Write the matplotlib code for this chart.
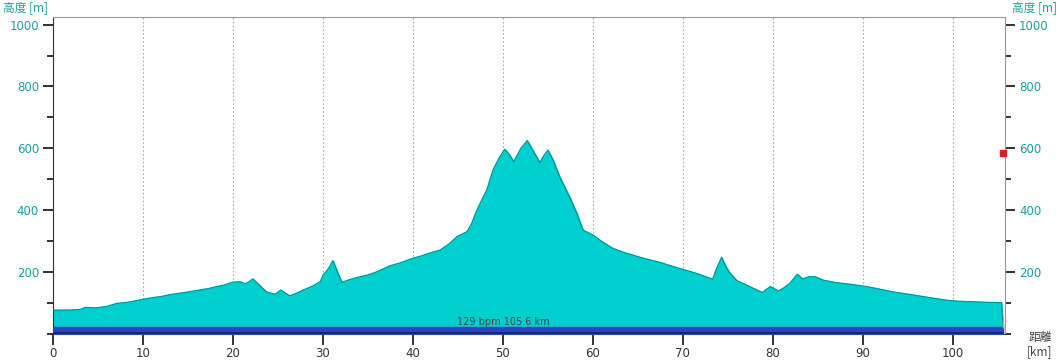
import numpy as np
import matplotlib
matplotlib.use("Agg")
import matplotlib.pyplot as plt
from matplotlib.ticker import MultipleLocator

# elevation profile
dist_km = [0, 1, 2, 3, 3.6, 4.5, 5, 6, 7.1, 8, 9, 10, 11, 12, 13, 14.4, 15.5, 16.5,
           17.3, 18.2, 19, 19.9, 20.8, 21.3, 21.8, 22.2, 23, 23.7, 24.7, 25.3, 26.3,
           27, 27.8, 28.8, 29.7, 30.0, 30.6, 31.1, 31.6, 32.1, 33, 34, 35, 36, 37.4,
           38.5, 40, 41, 42, 43, 44, 44.9, 46, 46.5, 47.1, 47.6, 48.2, 48.9, 49.5,
           50.2, 50.7, 51.2, 52, 52.7, 53.4, 54.1, 54.5, 55, 55.6, 56.3, 57.4, 58.2,
           58.9, 60, 61, 62.2, 63.5, 65.6, 67.5, 69.7, 71.5, 73.3, 73.8, 74.3, 74.8,
           75.2, 76, 77, 78.8, 79.7, 80.6, 81.2, 81.9, 82.7, 83.3, 84, 84.7, 85.6,
           87, 88.5, 90, 91.5, 93.3, 95.6, 97.5, 99.3, 100.4, 102, 104, 105.4, 105.6]
elev_m = [76, 76, 76, 78, 85, 83, 84, 88, 98, 100, 105, 111, 116, 120, 126, 132, 137, 142,
          146, 152, 157, 166, 168, 161, 168, 177, 155, 135, 127, 141, 122,
          130, 141, 153, 168, 189, 210, 236, 200, 166, 175, 183, 190, 200, 219,
          228, 244, 252, 262, 270, 290, 314, 330, 355, 400, 430, 465, 530, 565,
          597, 580, 557, 600, 625, 590, 553, 575, 594, 560, 508, 443, 390,
          335, 319, 298, 276, 262, 244, 230, 210, 195, 176, 215, 247, 215,
          197, 171, 158, 133, 152, 138, 148, 163, 192, 177, 184, 184, 173,
          165, 160, 154, 146, 135, 125, 116, 108, 105, 103, 101, 100, 20]

total_km = 105.6
avg_hr = 129
marker_elev = 585

teal = "#16a0a0"
fig = plt.figure(figsize=(10.6, 3.6), dpi=100)
ax = fig.add_axes([53 / 1060, 26.5 / 360, 952 / 1060, 316.5 / 360])

ax.set_xlim(0, 105.8)
ax.set_ylim(0, 1025)

# dotted grid behind the profile
for gx in range(10, 101, 10):
    ax.axvline(gx, color="#aaaaaa", lw=0.8, ls=(0, (1.5, 2)), zorder=0)

ax.fill_between(dist_km, 20, elev_m, color="#00cfcf", zorder=2)
ax.plot(dist_km, elev_m, color="#158a8a", lw=0.8, zorder=3)

# blue band at the bottom
ax.fill_between([0, total_km], 0, 20, color="#2449bf", zorder=4)
ax.axhline(2, xmax=total_km / 105.8, color="#1a237e", lw=1.5, zorder=5)
ax.plot([total_km, total_km], [20, 50], color="#ff8a8a", lw=1, zorder=5)

ax.text(50, 22, f"{avg_hr} bpm {total_km} km", ha="center", va="bottom",
        fontsize=7, color="#444444", zorder=6)

ax.plot([total_km - 0.05], [marker_elev], marker="s", ms=4, color="#e02020",
        mec="#e02020", clip_on=False, zorder=7)

# axes styling
for side in ["top", "right"]:
    ax.spines[side].set_color("#999999")
ax.spines["left"].set_color("#333333")
ax.spines["bottom"].set_color("#333333")

ax.xaxis.set_major_locator(MultipleLocator(10))
ax.set_xticks(range(0, 101, 10))
ax.tick_params(axis="x", length=8, width=1.2, color="#111111", labelsize=8.5,
               labelcolor="#333333", pad=2)

ax.yaxis.set_major_locator(MultipleLocator(200))
ax.yaxis.set_minor_locator(MultipleLocator(100))
ax.set_yticks([200, 400, 600, 800, 1000])
ax.tick_params(axis="y", which="major", length=7, width=1.2, color="#111111",
               labelsize=8.5, labelcolor=teal, left=True, right=True,
               labelleft=True, labelright=True, pad=3)
ax.tick_params(axis="y", which="minor", length=4, width=1.2, color="#111111",
               left=True, right=True)

cjk = ["Noto Sans CJK JP", "DejaVu Sans"]
fig.text(3 / 1060, 1 - 8 / 360, "高度 [m]", ha="left", va="center",
         fontsize=8.5, color=teal, family=cjk)
fig.text(1057 / 1060, 1 - 8 / 360, "高度 [m]", ha="right", va="center",
         fontsize=8.5, color=teal, family=cjk)
fig.text(1040 / 1060, 1 - 337 / 360, "距離", ha="center", va="center",
         fontsize=8.5, color="#444444", family=cjk)
fig.text(1040 / 1060, 1 - 352 / 360, "[km]", ha="center", va="center",
         fontsize=8.5, color="#444444", family=cjk)

fig.savefig("out.png", dpi=100)
